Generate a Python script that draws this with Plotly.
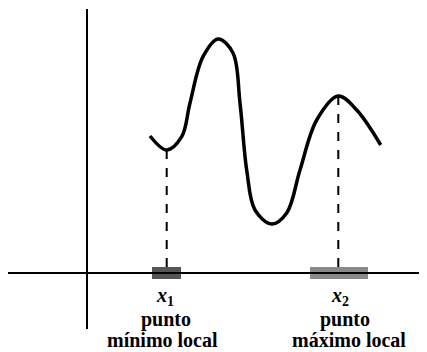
import plotly.graph_objects as go

# curve (x to the right, y up, same units as the page)
curve_x = [150, 166.7, 181.7, 190, 203, 218.3, 233, 240, 246.7, 255, 271.7,
           286.7, 300, 316.7, 338.3, 356.7, 380.7]
curve_y = [216, 202, 215.3, 249, 295.3, 313, 299, 249, 182, 142, 128,
           139, 182, 232, 256, 242, 207]

axis_y = 79
axis_x = 87
extreme_x = [166.7, 338.3]
extreme_y = [202, 256]
extreme_names = ["<b><i>x</i><sub>1</sub></b>", "<b><i>x</i><sub>2</sub></b>"]
name_x = [165, 340]
punto_x = [166, 345]
point_labels = ["mínimo&nbsp;local", "máximo&nbsp;local"]
label_x = [162, 349]
band_x0 = [152, 310]
band_x1 = [181, 368]
band_colors = ["#555555", "#8a8a8a"]

fig = go.Figure()

# axes
fig.add_trace(go.Scatter(x=[8, 427], y=[axis_y, axis_y], mode="lines",
                         line=dict(color="black", width=2), hoverinfo="skip"))
fig.add_trace(go.Scatter(x=[axis_x, axis_x], y=[23, 343], mode="lines",
                         line=dict(color="black", width=2), hoverinfo="skip"))

# shaded neighbourhoods on the x axis
for x0, x1, c in zip(band_x0, band_x1, band_colors):
    fig.add_shape(type="rect", x0=x0, x1=x1, y0=axis_y - 6, y1=axis_y + 6,
                  fillcolor=c, line=dict(width=0), layer="below")

# dashed verticals from the extremes down to the axis
for xe, ye in zip(extreme_x, extreme_y):
    fig.add_trace(go.Scatter(x=[xe, xe], y=[ye, axis_y], mode="lines",
                             line=dict(color="black", width=2, dash="dash"),
                             hoverinfo="skip"))

# the function
fig.add_trace(go.Scatter(x=curve_x, y=curve_y, mode="lines",
                         line=dict(color="black", width=3.5, shape="spline"),
                         hoverinfo="skip"))

font = dict(family="Liberation Serif, Times New Roman, serif", size=20, color="black")
for nx, name, px, lx, lab in zip(name_x, extreme_names, punto_x, label_x, point_labels):
    fig.add_annotation(x=nx, y=56, text=name, showarrow=False, font=font)
    fig.add_annotation(x=px, y=33, text="<b>punto</b>", showarrow=False, font=font)
    fig.add_annotation(x=lx, y=12, text=f"<b>{lab}</b>", showarrow=False, font=font)

# the page body keeps an 8px margin, so the figure is 8px smaller each way
fig.update_layout(width=419, height=344, margin=dict(l=0, r=0, t=0, b=0),
                  plot_bgcolor="white", paper_bgcolor="white", showlegend=False,
                  font=font)
fig.update_xaxes(range=[8, 427], visible=False)
fig.update_yaxes(range=[0, 344], visible=False)

fig.write_html("out.html")
